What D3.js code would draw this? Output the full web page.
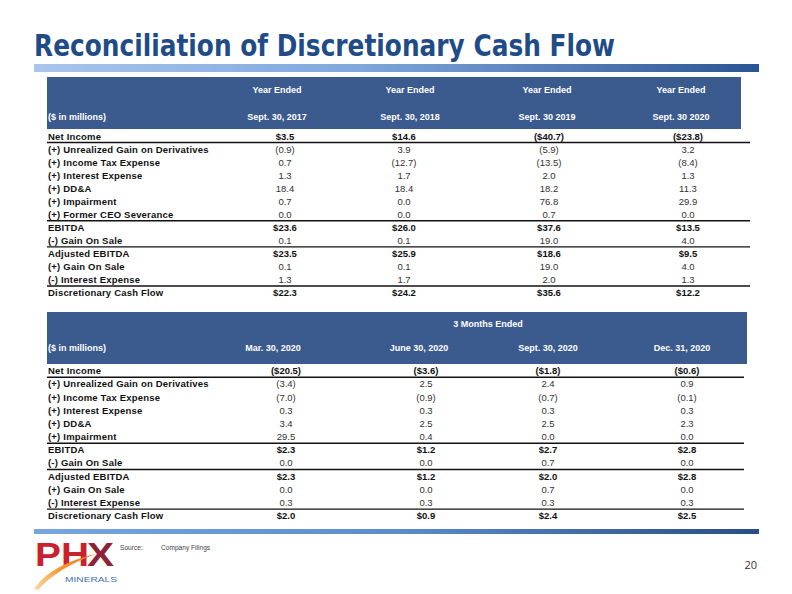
<!DOCTYPE html>
<html><head><meta charset="utf-8">
<script src="https://cdn.jsdelivr.net/npm/d3@7"></script>
<style>
html,body{margin:0;padding:0;background:#fff;}
svg{display:block;}
</style></head>
<body>
<svg id="slide" width="792" height="594"></svg>
<script>
// ---------- DATA ----------
const titleText = "Reconciliation of Discretionary Cash Flow";
const unitLabel = "($ in millions)";

const annualHeader = "Year Ended";
const annualColumns = ["Sept. 30, 2017", "Sept. 30, 2018", "Sept. 30 2019", "Sept. 30 2020"];
const annualRows = ["Net Income", "(+) Unrealized Gain on Derivatives", "(+) Income Tax Expense",
  "(+) Interest Expense", "(+) DD&A", "(+) Impairment", "(+) Former CEO Severance", "EBITDA",
  "(-) Gain On Sale", "Adjusted EBITDA", "(+) Gain On Sale", "(-) Interest Expense", "Discretionary Cash Flow"];
const fy2017 = [3.5, -0.9, 0.7, 1.3, 18.4, 0.7, 0.0, 23.6, 0.1, 23.5, 0.1, 1.3, 22.3];
const fy2018 = [14.6, 3.9, -12.7, 1.7, 18.4, 0.0, 0.0, 26.0, 0.1, 25.9, 0.1, 1.7, 24.2];
const fy2019 = [-40.7, -5.9, -13.5, 2.0, 18.2, 76.8, 0.7, 37.6, 19.0, 18.6, 19.0, 2.0, 35.6];
const fy2020 = [-23.8, 3.2, -8.4, 1.3, 11.3, 29.9, 0.0, 13.5, 4.0, 9.5, 4.0, 1.3, 12.2];

const quarterHeader = "3 Months Ended";
const quarterColumns = ["Mar. 30, 2020", "June 30, 2020", "Sept. 30, 2020", "Dec. 31, 2020"];
const quarterRows = ["Net Income", "(+) Unrealized Gain on Derivatives", "(+) Income Tax Expense",
  "(+) Interest Expense", "(+) DD&A", "(+) Impairment", "EBITDA", "(-) Gain On Sale",
  "Adjusted EBITDA", "(+) Gain On Sale", "(-) Interest Expense", "Discretionary Cash Flow"];
const q1_2020 = [-20.5, -3.4, -7.0, 0.3, 3.4, 29.5, 2.3, 0.0, 2.3, 0.0, 0.3, 2.0];
const q2_2020 = [-3.6, 2.5, -0.9, 0.3, 2.5, 0.4, 1.2, 0.0, 1.2, 0.0, 0.3, 0.9];
const q3_2020 = [-1.8, 2.4, -0.7, 0.3, 2.5, 0.0, 2.7, 0.7, 2.0, 0.7, 0.3, 2.4];
const q4_2020 = [-0.6, 0.9, -0.1, 0.3, 2.3, 0.0, 2.8, 0.0, 2.8, 0.0, 0.3, 2.5];

const totalRows = ["Net Income", "EBITDA", "Adjusted EBITDA", "Discretionary Cash Flow"];
const ruleAboveRows = ["(+) Unrealized Gain on Derivatives", "EBITDA", "Adjusted EBITDA", "Discretionary Cash Flow"];

const sourceLabel = "Source:";
const sourceText = "Company Filings";
const pageNumber = "20";

// ---------- DRAW ----------
const svg = d3.select("#slide");
const defs = svg.append("defs");

const g1 = defs.append("linearGradient").attr("id", "barTop").attr("x1", "0").attr("x2", "1");
g1.append("stop").attr("offset", "0").attr("stop-color", "#a9c6ec");
g1.append("stop").attr("offset", "0.45").attr("stop-color", "#7ea7dc");
g1.append("stop").attr("offset", "1").attr("stop-color", "#2b5592");
const g2 = defs.append("linearGradient").attr("id", "barBot").attr("x1", "0").attr("x2", "1");
g2.append("stop").attr("offset", "0").attr("stop-color", "#78a6e0");
g2.append("stop").attr("offset", "0.5").attr("stop-color", "#5d8ccb");
g2.append("stop").attr("offset", "1").attr("stop-color", "#2a4d85");
const g3 = defs.append("linearGradient").attr("id", "swoosh").attr("x1", "0").attr("x2", "1").attr("y1", "1").attr("y2", "0");
g3.append("stop").attr("offset", "0").attr("stop-color", "#fbd9a8");
g3.append("stop").attr("offset", "0.5").attr("stop-color", "#f39a35");
g3.append("stop").attr("offset", "1").attr("stop-color", "#e9731c");

// title
svg.append("text").text(titleText)
  .attr("x", 34).attr("y", 56)
  .attr("textLength", 581).attr("lengthAdjust", "spacingAndGlyphs")
  .style("font-family", "'DejaVu Sans Condensed','DejaVu Sans',sans-serif")
  .style("font-stretch", "condensed")
  .style("font-weight", "bold").style("font-size", "30px")
  .style("fill", "#1f4c87");

svg.append("rect").attr("x", 34).attr("y", 64).attr("width", 725).attr("height", 8).attr("fill", "url(#barTop)");
svg.append("rect").attr("x", 34).attr("y", 529).attr("width", 725).attr("height", 5).attr("fill", "url(#barBot)");

function fmt(v, total) {
  const s = Math.abs(v).toFixed(1);
  const body = total ? "$" + s : s;
  return v < 0 ? "(" + body + ")" : body;
}

function drawTable(cfg) {
  const g = svg.append("g");
  g.append("rect").attr("x", cfg.left).attr("y", cfg.headTop)
    .attr("width", cfg.headRight - cfg.left).attr("height", cfg.headBottom - cfg.headTop)
    .attr("fill", "#3b5a8d");

  const colHead = d3.scaleOrdinal().domain(cfg.columns).range(cfg.headX);
  const colVal = d3.scaleOrdinal().domain(cfg.columns).range(cfg.valX);
  const rowY = d3.scaleBand().domain(cfg.rows).range([cfg.bodyTop, cfg.bodyBottom]);

  const white = s => s.style("fill", "#ffffff").style("font-family", "'Liberation Sans',Arial,sans-serif")
      .style("font-weight", "bold").style("font-size", "9px");

  if (cfg.perColumnHeader) {
    g.selectAll(".yh").data(cfg.columns).join("text")
      .attr("x", d => colHead(d)).attr("y", cfg.headLine1).attr("text-anchor", "middle")
      .attr("dominant-baseline", "central").text(cfg.topHeader).call(white);
  } else {
    g.append("text").attr("x", cfg.spanX).attr("y", cfg.headLine1).attr("text-anchor", "middle")
      .attr("dominant-baseline", "central").text(cfg.topHeader).call(white);
  }
  g.selectAll(".dh").data(cfg.columns).join("text")
    .attr("x", d => colHead(d)).attr("y", cfg.headLine2).attr("text-anchor", "middle")
    .attr("dominant-baseline", "central").text(d => d).call(white);
  g.append("text").attr("x", cfg.left + 1).attr("y", cfg.headLine2)
    .attr("dominant-baseline", "central").text(unitLabel).call(white);

  // row labels
  g.selectAll(".lab").data(cfg.rows).join("text")
    .attr("x", cfg.left + 1).attr("y", d => rowY(d) + rowY.bandwidth() / 2)
    .attr("dominant-baseline", "central")
    .text(d => d)
    .style("font-family", "'Liberation Sans',Arial,sans-serif").style("font-weight", "bold")
    .style("font-size", "9.5px").style("letter-spacing", "0.2px").style("fill", "#111");

  // values
  cfg.columns.forEach((c, ci) => {
    const vals = cfg.values[ci];
    g.selectAll(".v" + ci).data(cfg.rows).join("text")
      .attr("x", colVal(c)).attr("y", d => rowY(d) + rowY.bandwidth() / 2)
      .attr("text-anchor", "middle").attr("dominant-baseline", "central")
      .text((d, i) => fmt(vals[i], totalRows.includes(d)))
      .style("font-family", "'Liberation Sans',Arial,sans-serif")
      .style("font-weight", d => totalRows.includes(d) ? "bold" : "normal")
      .style("font-size", "9.5px")
      .style("fill", d => totalRows.includes(d) ? "#111" : "#333");
  });

  // rules
  g.selectAll(".rule").data(ruleAboveRows.filter(r => cfg.rows.includes(r))).join("line")
    .attr("x1", cfg.left).attr("x2", cfg.ruleRight)
    .attr("y1", d => rowY(d)).attr("y2", d => rowY(d))
    .attr("stroke", "#111").attr("stroke-width", 1.4);
}

drawTable({
  columns: annualColumns, rows: annualRows, values: [fy2017, fy2018, fy2019, fy2020],
  topHeader: annualHeader, perColumnHeader: true,
  left: 47, headRight: 741, ruleRight: 750,
  headTop: 77, headBottom: 129, headLine1: 89.5, headLine2: 116.5,
  bodyTop: 129.5, bodyBottom: 299,
  headX: [277, 410, 547, 681], valX: [285, 404, 549, 688]
});

drawTable({
  columns: quarterColumns, rows: quarterRows, values: [q1_2020, q2_2020, q3_2020, q4_2020],
  topHeader: quarterHeader, perColumnHeader: false, spanX: 488,
  left: 47, headRight: 747, ruleRight: 744,
  headTop: 312, headBottom: 364, headLine1: 324.3, headLine2: 348.3,
  bodyTop: 364.1, bodyBottom: 522.3,
  headX: [273, 419, 548, 682], valX: [286, 426, 548, 687]
});

// footer: logo
const logo = svg.append("g");
logo.append("text").attr("x", 35).attr("y", 566).text("PH")
  .attr("textLength", 54).attr("lengthAdjust", "spacingAndGlyphs")
  .style("font-family", "'Liberation Sans',Arial,sans-serif").style("font-weight", "bold")
  .style("font-size", "34px").style("fill", "#c8222e");
logo.append("text").attr("x", 87).attr("y", 566).text("X")
  .attr("textLength", 27).attr("lengthAdjust", "spacingAndGlyphs")
  .style("font-family", "'Liberation Sans',Arial,sans-serif").style("font-weight", "bold")
  .style("font-size", "34px").style("fill", "#8e2236");
logo.append("path")
  .attr("d", "M34,589 C46,572 66,561 96,554 C71,563 51,575 38,590 Z")
  .attr("fill", "url(#swoosh)");
logo.append("text").attr("x", 65).attr("y", 582).text("MINERALS")
  .attr("textLength", 52).attr("lengthAdjust", "spacingAndGlyphs")
  .style("font-family", "'Liberation Sans',Arial,sans-serif").style("font-size", "8px").style("fill", "#3f6fad");

svg.append("text").attr("x", 120).attr("y", 550).text(sourceLabel)
  .style("font-family", "'Liberation Sans',Arial,sans-serif").style("font-size", "6.6px").style("fill", "#444");
svg.append("text").attr("x", 161).attr("y", 550).text(sourceText)
  .style("font-family", "'Liberation Sans',Arial,sans-serif").style("font-size", "6.6px").style("fill", "#444");
svg.append("text").attr("x", 757).attr("y", 569).attr("text-anchor", "end").text(pageNumber)
  .style("font-family", "'Open Sans',sans-serif").style("font-size", "11px").style("fill", "#333");
</script>
</body></html>
